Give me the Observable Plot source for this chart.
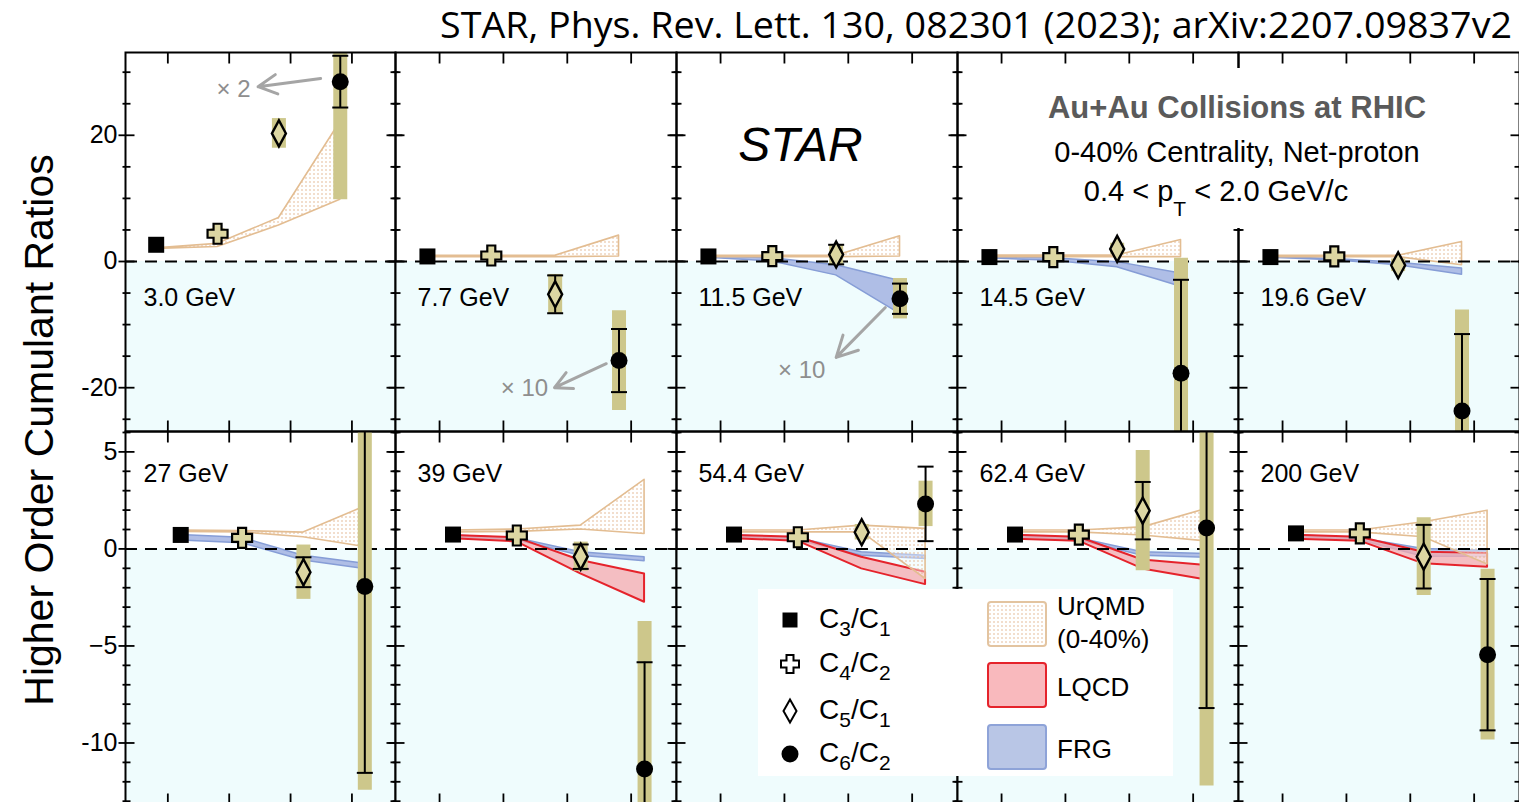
<!DOCTYPE html>
<html>
<head>
<meta charset="utf-8">
<script src="https://cdn.jsdelivr.net/npm/d3@7"></script>
<script src="https://cdn.jsdelivr.net/npm/@observablehq/plot@0.6"></script>
<style>
  html, body { margin: 0; padding: 0; background: #fff; width: 1519px; height: 802px; overflow: hidden; }
  #chart { position: relative; width: 1519px; height: 802px; font-family: "Liberation Sans", Arial, sans-serif; }
  #chart svg { position: absolute; overflow: visible; }
</style>
</head>
<body>
<div id="chart"></div>
<script>
// ---------------------------------------------------------------
// Net-proton cumulant ratios, Au+Au 0-40%, per collision energy
// ---------------------------------------------------------------
const energies = ["3.0 GeV", "7.7 GeV", "11.5 GeV", "14.5 GeV", "19.6 GeV",
                  "27 GeV", "39 GeV", "54.4 GeV", "62.4 GeV", "200 GeV"];
const ratios = ["C3/C1", "C4/C2", "C5/C1", "C6/C2"];

// Measured values as plotted (C6/C2 is shown x2 at 3.0 GeV and x10 at 7.7 and 11.5 GeV)
const c3c1 = [2.65, 0.8, 0.8, 0.7, 0.7, 0.72, 0.74, 0.74, 0.74, 0.8];
const c4c2 = [4.4, 0.95, 0.85, 0.7, 0.8, 0.57, 0.69, 0.6, 0.74, 0.8];
const c5c1 = [20.3, -5.2, 1.1, 2.0, -0.6, -1.2, -0.4, 0.86, 1.97, -0.4];
const c6c2 = [28.5, -15.7, -5.9, -17.7, -23.7, -1.94, -11.34, 2.32, 1.08, -5.45];

// Statistical uncertainties
const c3c1Stat = [0.3, 0.2, 0.2, 0.2, 0.2, 0.05, 0.05, 0.05, 0.05, 0.05];
const c4c2Stat = [0.8, 0.5, 0.5, 0.5, 0.5, 0.15, 0.15, 0.15, 0.15, 0.15];
const c5c1Stat = [1.2, 3.0, 1.55, 1.0, 1.2, 0.77, 0.63, 0.4, 1.48, 1.64];
const c6c2Stat = [4.1, 5.0, 2.4, 14.8, 12.2, 9.6, 5.5, 1.92, 9.28, 3.9];

// Systematic uncertainties
const c3c1Sys = [0.3, 0.2, 0.2, 0.2, 0.2, 0.05, 0.05, 0.05, 0.05, 0.05];
const c4c2Sys = [0.8, 0.5, 0.5, 0.5, 0.5, 0.15, 0.15, 0.15, 0.15, 0.15];
const c5c1Sys = [2.35, 3.15, 1.6, 0.9, 1.0, 1.4, 0.75, 0.4, 3.1, 2.0];
const c6c2Sys = [18.7, 7.9, 3.2, 18.2, 16.0, 10.5, 7.6, 1.17, 13.3, 4.4];

// Model bands: lower / upper edge at C3/C1, C4/C2, C5/C1, C6/C2
const urqmdLo = [
  [2.0, 2.3, 5.7, 9.8], [0.7, 0.7, 0.7, 0.8], [0.7, 0.7, 0.7, 0.8], [0.7, 0.7, 0.7, 0.7],
  [0.7, 0.7, 0.7, -0.6], [0.88, 0.85, 0.6, 0.1], [0.85, 0.88, 1.0, 0.77], [0.85, 0.85, 0.86, -1.55],
  [0.85, 0.85, 0.69, 0.39], [0.85, 0.85, 0.6, -0.8]
];
const urqmdHi = [
  [2.1, 2.8, 6.9, 22.1], [0.9, 0.9, 0.9, 4.1], [0.9, 0.9, 0.9, 4.0], [0.95, 0.95, 0.95, 3.4],
  [0.9, 0.9, 0.9, 3.1], [0.95, 0.92, 0.84, 2.18], [0.95, 1.0, 1.2, 3.56], [0.95, 0.95, 1.2, 1.03],
  [0.95, 0.95, 1.11, 2.06], [0.95, 0.95, 1.37, 1.97]
];
const frgLo = [
  null, null, [0.6, 0.0, -2.2, -8.3], [0.5, 0.1, -0.9, -4.0], [0.6, 0.2, -0.6, -2.1],
  [0.43, 0.29, -0.6, -1.03], [0.6, 0.45, -0.35, -0.64], [0.6, 0.45, -0.35, -0.52],
  [0.6, 0.45, -0.35, -0.46], [0.6, 0.45, -0.4, -0.4]
];
const frgHi = [
  null, null, [0.8, 0.5, -0.6, -3.1], [0.7, 0.5, -0.1, -1.9], [0.7, 0.4, -0.2, -1.1],
  [0.72, 0.57, -0.35, -0.77], [0.69, 0.55, -0.17, -0.43], [0.7, 0.55, -0.17, -0.35],
  [0.7, 0.55, -0.17, -0.26], [0.7, 0.55, 0.0, -0.1]
];
const lqcdLo = [
  null, null, null, null, null, null,
  [0.52, 0.36, -1.29, -2.75], [0.52, 0.4, -1.03, -1.84], [0.5, 0.4, -1.03, -1.6], [0.5, 0.4, -0.77, -0.95]
];
const lqcdHi = [
  null, null, null, null, null, null,
  [0.69, 0.57, -0.6, -1.29], [0.69, 0.6, -0.43, -1.2], [0.7, 0.6, -0.57, -0.86], [0.7, 0.6, -0.17, -0.23]
];

// Scale-factor notes with arrows (panel index, label, arrow from -> to, label anchor)
const scaleNotes = [
  {panel: 0, label: "× 2", x1: 3.68, y1: 29.0, x2: 2.66, y2: 27.7, tx: 2.26, ty: 27.3},
  {panel: 1, label: "× 10", x1: 3.80, y1: -16.2, x2: 2.99, y2: -20.0, tx: 2.52, ty: -20.1},
  {panel: 2, label: "× 10", x1: 3.77, y1: -7.3, x2: 3.00, y2: -15.2, tx: 2.46, ty: -17.3}
];

// Axis ticks
const topMajor = [-20, 0, 20];
const topMajorLabels = ["-20", "0", "20"];
const topMinor = [-25, -15, -10, -5, 5, 10, 15, 25, 30];
const bottomMajor = [-10, -5, 0, 5];
const bottomMajorLabels = ["-10", "−5", "0", "5"];
const bottomMinor = [-13, -12, -11, -9, -8, -7, -6, -4, -3, -2, -1, 1, 2, 3, 4, 6];
const xTicks = [1.19, 2.19, 3.19, 4.19];

// ---------------------------------------------------------------
// Layout
// ---------------------------------------------------------------
const colLeft = [125, 395, 676, 957, 1238];
const colWidth = [270, 281, 281, 281, 281];
const rowTop = [52, 431];
const rowHeight = [379, 373];
const rowDomain = [[-26.94, 33.12], [-13.17, 6.05]];
const rowShift = [0, 0.4];      // points in the lower row sit a little further right
const xDomain = [0.5, 4.9];
const labelY = [-7.13, 3.47];   // baseline of the energy label in each row
const pad = 12;
const minBarPx = 9;             // error bars hidden inside the marker are not drawn

const values = [c3c1, c4c2, c5c1, c6c2];
const stats = [c3c1Stat, c4c2Stat, c5c1Stat, c6c2Stat];
const syss = [c3c1Sys, c4c2Sys, c5c1Sys, c6c2Sys];

const sysColor = "#cdc78b";
const markFill = "#dcd6a2";
const bgColor = "#effcfd";

// symbol shapes
const hLine = (a, b) => ({draw(c) { c.moveTo(a, 0); c.lineTo(b, 0); }});
const vLine = (a, b) => ({draw(c) { c.moveTo(0, a); c.lineTo(0, b); }});
const squareSym = (s) => ({draw(c) { c.rect(-s, -s, 2 * s, 2 * s); }});
const crossSym = (h, a) => ({draw(c) {
  c.moveTo(-a, -h); c.lineTo(a, -h); c.lineTo(a, -a); c.lineTo(h, -a); c.lineTo(h, a);
  c.lineTo(a, a); c.lineTo(a, h); c.lineTo(-a, h); c.lineTo(-a, a); c.lineTo(-h, a);
  c.lineTo(-h, -a); c.lineTo(-a, -a); c.closePath();
}});
const diamondSym = (w, h) => ({draw(c) {
  c.moveTo(0, -h); c.lineTo(w, 0); c.lineTo(0, h); c.lineTo(-w, 0); c.closePath();
}});
const circleSym = (r) => ({draw(c) { c.moveTo(r, 0); c.arc(0, 0, r, 0, 2 * Math.PI); }});

const chart = document.getElementById("chart");

// dotted fill used by the UrQMD band
const defs = d3.select(chart).append("svg").attr("width", 0).attr("height", 0).style("left", 0).style("top", 0);
const pat = defs.append("defs").append("pattern")
  .attr("id", "urqmd-dots").attr("width", 4).attr("height", 4).attr("patternUnits", "userSpaceOnUse");
pat.append("rect").attr("width", 4).attr("height", 4).attr("fill", "#ffffff").attr("fill-opacity", 0.4);
pat.append("circle").attr("cx", 2).attr("cy", 2).attr("r", 0.8).attr("fill", "#e2b48c");

function panel(i) {
  const row = i < 5 ? 0 : 1, col = i % 5;
  const shift = rowShift[row];
  const yDomain = rowDomain[row];
  const pxPerUnit = rowHeight[row] / (yDomain[1] - yDomain[0]);
  const pts = ratios.map((r, k) => ({
    ratio: r, x: k + 1 + shift, v: values[k][i], stat: stats[k][i], sys: syss[k][i]
  }));
  const bars = pts.filter(d => d.stat * pxPerUnit > minBarPx);
  const band = (lo, hi) => lo[i] ? lo[i].map((l, k) => ({x: k + 1 + shift, lo: l, hi: hi[i][k]})) : [];
  const major = row === 0 ? topMajor : bottomMajor;
  const minor = row === 0 ? topMinor : bottomMinor;
  const majorLabels = row === 0 ? topMajorLabels : bottomMajorLabels;
  const notes = scaleNotes.filter(d => d.panel === i);
  const ml = col === 0 ? colLeft[0] : pad;

  const marks = [
    // shaded region below zero
    Plot.rect([0], {x1: () => xDomain[0], x2: () => xDomain[1], y1: () => 0, y2: () => yDomain[0], fill: bgColor}),
    // model bands
    Plot.areaY(band(frgLo, frgHi), {x: "x", y1: "lo", y2: "hi", fill: "#a7b7e3", fillOpacity: 0.9, stroke: "#869dd6", strokeWidth: 1.5, clip: true}),
    Plot.areaY(band(lqcdLo, lqcdHi), {x: "x", y1: "lo", y2: "hi", fill: "#f6a9ae", fillOpacity: 0.75, stroke: "#e5232b", strokeWidth: 2, clip: true}),
    Plot.areaY(band(urqmdLo, urqmdHi), {x: "x", y1: "lo", y2: "hi", fill: "url(#urqmd-dots)", stroke: "#e3bd92", strokeWidth: 1.6, clip: true}),
    // zero line
    Plot.ruleY([0], {stroke: "black", strokeWidth: 2, strokeDasharray: "12,8"}),
    // systematic boxes
    Plot.ruleX(pts, {x: "x", y1: d => d.v - d.sys, y2: d => d.v + d.sys, stroke: sysColor, strokeWidth: 14, clip: true}),
    // statistical bars and caps
    Plot.ruleX(bars, {x: "x", y1: d => d.v - d.stat, y2: d => d.v + d.stat, stroke: "black", strokeWidth: 2, clip: true}),
    Plot.dot(bars.flatMap(d => [{x: d.x, y: d.v - d.stat}, {x: d.x, y: d.v + d.stat}]),
      {x: "x", y: "y", symbol: hLine(-8, 8), fill: "none", stroke: "black", strokeWidth: 2, clip: true}),
    // markers
    Plot.dot(pts.filter(d => d.ratio === "C3/C1"), {x: "x", y: "v", symbol: squareSym(8), fill: "black", stroke: "none", clip: true}),
    Plot.dot(pts.filter(d => d.ratio === "C4/C2"), {x: "x", y: "v", symbol: crossSym(10, 4), fill: markFill, stroke: "black", strokeWidth: 2.2, clip: true}),
    Plot.dot(pts.filter(d => d.ratio === "C5/C1"), {x: "x", y: "v", symbol: diamondSym(7, 13), fill: markFill, stroke: "black", strokeWidth: 2.4, clip: true}),
    Plot.dot(pts.filter(d => d.ratio === "C6/C2"), {x: "x", y: "v", symbol: circleSym(8.5), fill: "black", stroke: "none", clip: true}),
    // scale-factor notes
    Plot.arrow(notes, {x1: "x1", y1: "y1", x2: "x2", y2: "y2", stroke: "#a5a5a5", strokeWidth: 3, headLength: 13, headAngle: 55}),
    Plot.text(notes, {x: "tx", y: "ty", text: "label", fill: "#8e8e8e", fontSize: 24, textAnchor: "middle", lineAnchor: "middle"}),
    // energy label
    Plot.text([energies[i]], {x: () => xDomain[0], y: () => labelY[row], text: d => d, dx: col === 0 ? 18 : 22,
      textAnchor: "start", lineAnchor: "bottom", fontSize: 25, fill: "black"}),
    // frame and inward ticks
    Plot.frame({stroke: "black", strokeWidth: 2}),
    Plot.dot(minor, {x: () => xDomain[0], y: d => d, symbol: hLine(-3, 5), stroke: "black", strokeWidth: 1.8, fill: "none"}),
    Plot.dot(minor, {x: () => xDomain[1], y: d => d, symbol: hLine(-5, 3), stroke: "black", strokeWidth: 1.8, fill: "none"}),
    Plot.dot(major, {x: () => xDomain[0], y: d => d, symbol: hLine(-7, 9), stroke: "black", strokeWidth: 1.8, fill: "none"}),
    Plot.dot(major, {x: () => xDomain[1], y: d => d, symbol: hLine(-9, 7), stroke: "black", strokeWidth: 1.8, fill: "none"}),
    Plot.dot(xTicks, {x: d => d, y: () => yDomain[1], symbol: vLine(0, 11), stroke: "black", strokeWidth: 1.8, fill: "none"}),
    Plot.dot(xTicks, {x: d => d, y: () => yDomain[0], symbol: vLine(-11, 0), stroke: "black", strokeWidth: 1.8, fill: "none"})
  ];
  if (i === 2) {
    marks.push(Plot.text(["STAR"], {x: () => 2.44, y: () => 16.0, text: d => d, fontSize: 48, fontStyle: "italic",
      textAnchor: "middle", lineAnchor: "bottom", fill: "black"}));
  }
  if (col === 0) {
    marks.push(Plot.axisY(major, {anchor: "left", tickSize: 0, tickPadding: 8, fontSize: 25, label: null,
      tickFormat: (d) => majorLabels[major.indexOf(d)]}));
  }

  const svg = Plot.plot({
    width: ml + colWidth[col] + pad,
    height: rowHeight[row] + 2 * pad,
    marginLeft: ml, marginRight: pad, marginTop: pad, marginBottom: pad,
    x: {domain: xDomain, axis: null},
    y: col === 0 ? {domain: yDomain} : {domain: yDomain, axis: null},
    style: {background: "transparent", fontFamily: "Liberation Sans, Arial, sans-serif", fontSize: "25px", color: "black", overflow: "visible"},
    marks
  });
  svg.style.position = "absolute";
  svg.style.left = (col === 0 ? 0 : colLeft[col] - pad) + "px";
  svg.style.top = (rowTop[row] - pad) + "px";
  svg.style.maxWidth = "none";
  chart.appendChild(svg);
}

for (let i = 0; i < energies.length; i++) panel(i);

// ---------------------------------------------------------------
// Titles, conditions block and legend
// ---------------------------------------------------------------
const ov = d3.select(chart).append("svg").attr("width", 1519).attr("height", 802)
  .style("left", 0).style("top", 0).style("font-family", "Liberation Sans, Arial, sans-serif");

ov.append("text").attr("x", 440).attr("y", 38).attr("textLength", 1072).attr("lengthAdjust", "spacingAndGlyphs")
  .style("font-family", "Open Sans, Noto Sans, sans-serif").style("font-size", "37px").attr("fill", "black")
  .text("STAR, Phys. Rev. Lett. 130, 082301 (2023); arXiv:2207.09837v2");

ov.append("text").attr("transform", "translate(53,430) rotate(-90)").attr("text-anchor", "middle")
  .style("font-size", "41px").attr("fill", "black").text("Higher Order Cumulant Ratios");

// conditions block
ov.append("rect").attr("x", 1025).attr("y", 68).attr("width", 425).attr("height", 160).attr("fill", "white");
ov.append("text").attr("x", 1237).attr("y", 118).attr("text-anchor", "middle").style("font-size", "31px")
  .style("font-weight", "bold").attr("fill", "#5a5a5a").text("Au+Au Collisions at RHIC");
ov.append("text").attr("x", 1237).attr("y", 162).attr("text-anchor", "middle").style("font-size", "29px")
  .attr("fill", "black").text("0-40% Centrality, Net-proton");
const pt = ov.append("text").attr("x", 1216).attr("y", 201).attr("text-anchor", "middle").style("font-size", "29px").attr("fill", "black");
pt.append("tspan").text("0.4 < p");
pt.append("tspan").attr("dy", 15).style("font-size", "21px").text("T");
pt.append("tspan").attr("dy", -15).text(" < 2.0 GeV/c");

// legend
const lg = ov.append("g");
lg.append("rect").attr("x", 758).attr("y", 589).attr("width", 415).attr("height", 187).attr("fill", "white");
const legendMarks = [
  {sym: squareSym(7.5), fill: "black", stroke: "none", y: 620, num: "3", den: "1"},
  {sym: crossSym(9, 3.5), fill: "white", stroke: "black", y: 664, num: "4", den: "2"},
  {sym: diamondSym(6.5, 11.5), fill: "white", stroke: "black", y: 711, num: "5", den: "1"},
  {sym: circleSym(8.5), fill: "black", stroke: "none", y: 754, num: "6", den: "2"}
];
legendMarks.forEach(d => {
  lg.append("path").attr("d", d3.symbol(d.sym)()).attr("transform", `translate(790,${d.y})`)
    .attr("fill", d.fill).attr("stroke", d.stroke).attr("stroke-width", 2);
  const t = lg.append("text").attr("x", 819).attr("y", d.y + 8).style("font-size", "28px").attr("fill", "black");
  t.append("tspan").text("C");
  t.append("tspan").attr("dy", 8).style("font-size", "21px").text(d.num);
  t.append("tspan").attr("dy", -8).text("/C");
  t.append("tspan").attr("dy", 8).style("font-size", "21px").text(d.den);
});
const swatches = [
  {y: 602, fill: "url(#urqmd-dots)", stroke: "#e3c4a0", lines: ["UrQMD", "(0-40%)"]},
  {y: 663, fill: "#f9b9bd", stroke: "#e5232b", lines: ["LQCD"]},
  {y: 725, fill: "#b9c6e6", stroke: "#8ea3d8", lines: ["FRG"]}
];
swatches.forEach(d => {
  lg.append("rect").attr("x", 988).attr("y", d.y).attr("width", 58).attr("height", 44).attr("rx", 3)
    .attr("fill", d.fill).attr("stroke", d.stroke).attr("stroke-width", 2);
  d.lines.forEach((s, k) => {
    const yb = d.lines.length === 2 ? d.y + 13 + k * 33 : d.y + 33;
    lg.append("text").attr("x", 1057).attr("y", yb).style("font-size", "26px").attr("fill", "black").text(s);
  });
});
</script>
</body>
</html>
